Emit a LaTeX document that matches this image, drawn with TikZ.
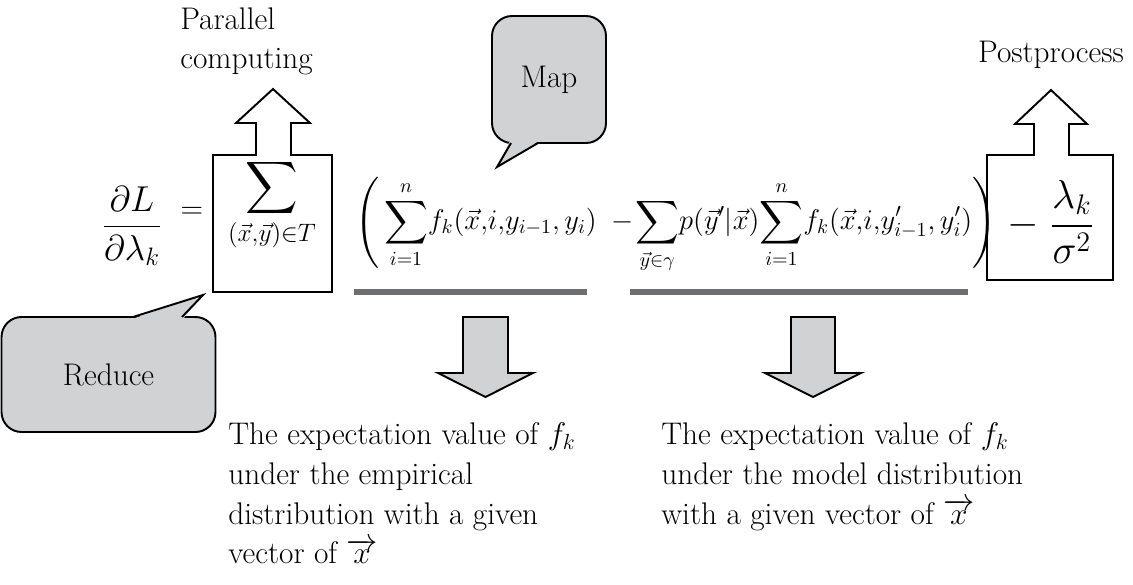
\RequirePackage{fix-cm}
\documentclass[tikz,border=0pt]{standalone}
\usepackage{amsmath}
\usetikzlibrary{positioning}

\definecolor{bubblegray}{HTML}{D1D2D4}
\definecolor{bargray}{HTML}{6D6E71}
\newcommand\bigfont{\fontsize{17.8}{22.7}\selectfont}
\newcommand\mathfont{\fontsize{16.2}{19.5}\selectfont}
\newcommand\largemath{\fontsize{20.5}{24}\selectfont}

\tikzset{
    outline/.style={draw=black, line width=1.1pt, line join=miter},
    bubble/.style={outline, fill=bubblegray, rounded corners=0.4cm},
    blockarrow/.style={outline, fill=bubblegray},
    bar/.style={draw=bargray, line width=3pt},
    label/.style={font=\bigfont, inner sep=0pt},
}

\begin{document}
\begin{tikzpicture}[x=0.02cm, y=-0.02cm]
    \useasboundingbox (0,0) rectangle (1133,585);

    \draw[outline] (213,292) -- (213,155) -- (256,155) -- (256,123) -- (236,123) -- (273,89)
        -- (310,123) -- (291,123) -- (291,155) -- (332,155) -- (332,292) -- cycle;
    \draw[outline] (987,280) -- (987,155) -- (1034,155) -- (1034,124) -- (1015,124) -- (1051,90)
        -- (1087,124) -- (1069,124) -- (1069,155) -- (1113,155) -- (1113,280) -- cycle;

    \node[label, font=\largemath] (dLdl) at (132,226) {$\displaystyle\frac{\partial L}{\partial\lambda_k}$};
    \node[label] (eq) at (192,213) {$=$};
    \node[label, font=\largemath] (sumT) at (272,205) {$\displaystyle\sum_{(\vec{x},\vec{y})\in T}$};
    \node[label, font=\mathfont, anchor=west] (mainexpr) at (355,225) {$\displaystyle\Bigg(\sum_{i=1}^{n}\!f_k(\vec{x}{,}i{,}y_{i-1}{,}\,y_i)\ -\!\sum_{\vec{y}\in\gamma}\!p(\vec{y}'|\vec{x})\!\sum_{i=1}^{n}\!f_k(\vec{x}{,}i{,}y'_{i-1}{,}\,y'_i)\Bigg)$};
    \node[label, font=\fontsize{23}{27}\selectfont, anchor=east] (prior) at (1094,222) {$\displaystyle-\;\frac{\lambda_k}{\sigma^2}$};

    \node[label, anchor=north west, align=left] (parallel) at (180,7) {Parallel\\computing};
    \node[label, anchor=base] (postproc) at (1051,62) {Postprocess};

    \node[bubble, minimum width=2.28cm, minimum height=2.54cm, font=\bigfont] (map) at (549,79.5) {Map};
    \coordinate (maptip) at (497,167);
    \fill[bubblegray] (510,141) -- (maptip) -- (539,141) -- cycle;
    \draw[outline] (511,143) -- (maptip) -- (538,143);

    \node[bubble, minimum width=4.28cm, minimum height=2.30cm, font=\bigfont] (reduce) at (108.5,374.5) {Reduce};
    \coordinate (reducetip) at (203,295);
    \fill[bubblegray] (132,319) -- (reducetip) -- (183,319) -- cycle;
    \draw[outline] (133,317) -- (reducetip) -- (182,317);

    \draw[bar] (354,292) -- (587,292);
    \draw[bar] (630,292) -- (968,292);

    \draw[blockarrow] (463,317) -- (508,317) -- (508,373) -- (533,373) -- (485.5,397) -- (438,373) -- (463,373) -- cycle;
    \draw[blockarrow] (791,317) -- (835,317) -- (835,373) -- (861,373) -- (813,397) -- (765,373) -- (791,373) -- cycle;

    \node[label, anchor=north west, align=left] (empirical) at (228,422)
        {The expectation value of $f_k$\\under the empirical\\distribution with a given\\vector of $\overrightarrow{x}$};
    \node[label, anchor=north west, align=left] (model) at (661,422)
        {The expectation value of $f_k$\\under the model distribution\\with a given vector of $\overrightarrow{x}$};
\end{tikzpicture}
\end{document}
